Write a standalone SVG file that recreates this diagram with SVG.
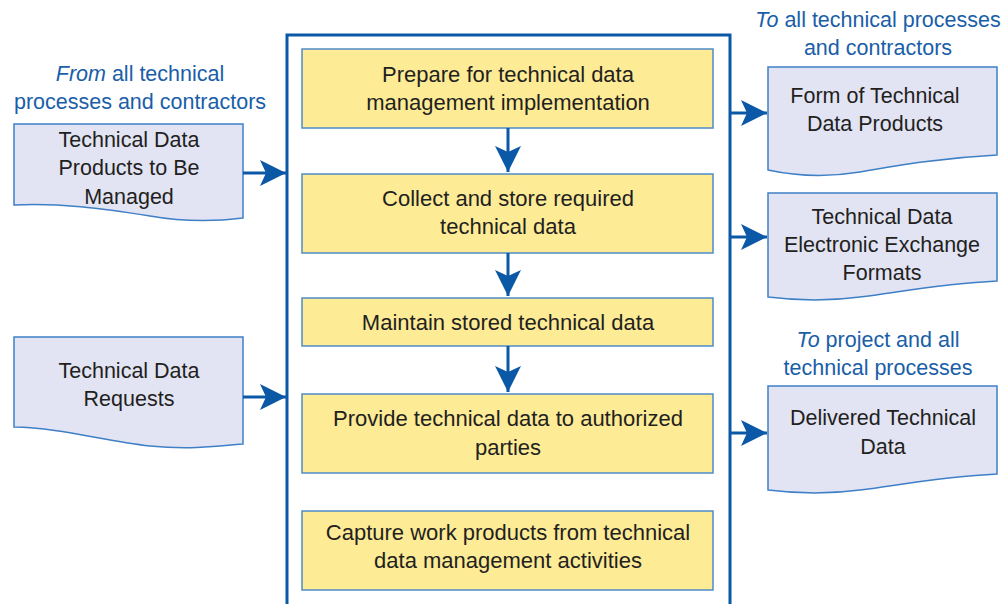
<svg xmlns="http://www.w3.org/2000/svg" width="1006" height="604" viewBox="0 0 1006 604">
<style>
.t{font-family:"Liberation Sans",Arial,sans-serif;font-size:22px;fill:#231f20;text-anchor:middle}
.d{font-family:"Liberation Sans",Arial,sans-serif;font-size:21.5px;fill:#231f20;text-anchor:middle}
.b{font-family:"Liberation Sans",Arial,sans-serif;font-size:21.5px;fill:#1a5ea8;text-anchor:middle}
.doc{fill:#e2e4f4;stroke:#3e7fc6;stroke-width:1.5}
.box{fill:#fdeb96;stroke:#4f8cc8;stroke-width:1.5}
.ln{stroke:#0b58a6;stroke-width:3;fill:none}
</style>
<defs>
<marker id="ah" markerUnits="userSpaceOnUse" markerWidth="28" markerHeight="28" refX="26" refY="13" orient="auto">
<path d="M0,0 L26,13 L0,26 L6,13 Z" fill="#0b58a6"/>
</marker>
</defs>
<g id="container">
<path class="ln" d="M287,604 V35 H730 V604"/>
</g>
<g id="label-from">
<text class="b" x="140" y="81"><tspan font-style="italic">From</tspan> all technical</text>
<text class="b" x="140" y="109">processes and contractors</text>
</g>
<g id="label-to1">
<text class="b" x="878" y="27"><tspan font-style="italic">To</tspan> all technical processes</text>
<text class="b" x="878" y="55">and contractors</text>
</g>
<g id="label-to2">
<text class="b" x="878" y="347"><tspan font-style="italic">To</tspan> project and all</text>
<text class="b" x="878" y="375">technical processes</text>
</g>
<g id="in1">
<path class="doc" d="M14,124 H243 V218 C220,221 190,223 150,216 C100,208 60,203 14,205 Z"/>
<text class="d" x="129" y="147">Technical Data</text>
<text class="d" x="129" y="175">Products to Be</text>
<text class="d" x="129" y="204">Managed</text>
</g>
<g id="in2">
<path class="doc" d="M14,337 H243 V444 C220,446 190,450 150,446 C100,440 60,428 14,427 Z"/>
<text class="d" x="129" y="378">Technical Data</text>
<text class="d" x="129" y="406">Requests</text>
</g>
<g id="out1">
<path class="doc" d="M768,67 H997 V155 C940,158 900,165 860,172 C830,177 800,177 768,170 Z"/>
<text class="d" x="875" y="103">Form of Technical</text>
<text class="d" x="875" y="131">Data Products</text>
</g>
<g id="out2">
<path class="doc" d="M768,193 H997 V281 C940,284 900,292 860,297 C830,301 800,301 768,297 Z"/>
<text class="d" x="882" y="224">Technical Data</text>
<text class="d" x="882" y="252">Electronic Exchange</text>
<text class="d" x="882" y="280">Formats</text>
</g>
<g id="out3">
<path class="doc" d="M768,386 H997 V474 C940,477 900,485 860,490 C830,494 800,494 768,490 Z"/>
<text class="d" x="883" y="425">Delivered Technical</text>
<text class="d" x="883" y="454">Data</text>
</g>
<g id="step1">
<rect class="box" x="302" y="49" width="411" height="79"/>
<text class="t" x="508" y="82">Prepare for technical data</text>
<text class="t" x="508" y="110">management implementation</text>
</g>
<g id="step2">
<rect class="box" x="302" y="174" width="411" height="79"/>
<text class="t" x="508" y="206">Collect and store required</text>
<text class="t" x="508" y="234">technical data</text>
</g>
<g id="step3">
<rect class="box" x="302" y="298" width="411" height="48"/>
<text class="t" x="508" y="330">Maintain stored technical data</text>
</g>
<g id="step4">
<rect class="box" x="302" y="394" width="411" height="79"/>
<text class="t" x="508" y="426">Provide technical data to authorized</text>
<text class="t" x="508" y="455">parties</text>
</g>
<g id="step5">
<rect class="box" x="302" y="511" width="411" height="79"/>
<text class="t" x="508" y="540">Capture work products from technical</text>
<text class="t" x="508" y="568">data management activities</text>
</g>
<g id="connectors">
<line class="ln" x1="508" y1="128" x2="508" y2="172" marker-end="url(#ah)"/>
<line class="ln" x1="508" y1="253" x2="508" y2="296" marker-end="url(#ah)"/>
<line class="ln" x1="508" y1="346" x2="508" y2="392" marker-end="url(#ah)"/>
<line class="ln" x1="243" y1="173" x2="286" y2="173" marker-end="url(#ah)"/>
<line class="ln" x1="243" y1="397" x2="286" y2="397" marker-end="url(#ah)"/>
<line class="ln" x1="730" y1="113" x2="767" y2="113" marker-end="url(#ah)"/>
<line class="ln" x1="730" y1="237" x2="767" y2="237" marker-end="url(#ah)"/>
<line class="ln" x1="730" y1="433" x2="767" y2="433" marker-end="url(#ah)"/>
</g>
</svg>
